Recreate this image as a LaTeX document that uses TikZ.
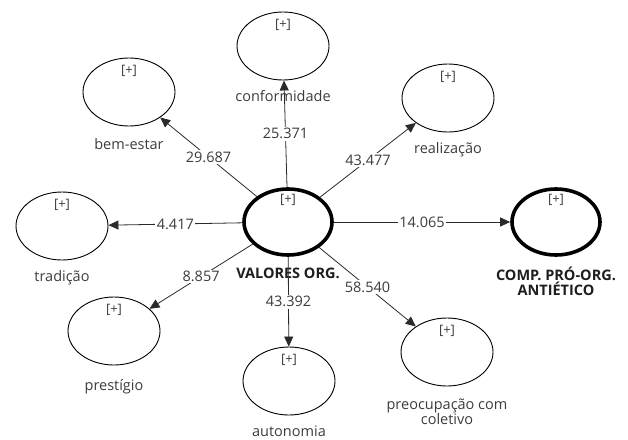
\documentclass[tikz,border=0pt]{standalone}
\usepackage{fontspec}
\setmainfont{Open Sans}
\usepackage{xcolor}
\usepackage{tikz}
\usetikzlibrary{arrows.meta,positioning,shapes.geometric}
\definecolor{PlsLine}{HTML}{2A2A2A}
\definecolor{PlsText}{HTML}{3C3C3C}
\definecolor{PlsDark}{HTML}{1E1E1E}

\begin{document}
\begin{tikzpicture}[
  x=1pt, y=-1pt,
  every node/.style={font=\fontsize{14.5}{16}\selectfont, text=PlsText},
  latent/.style={draw=black, ellipse, minimum width=92pt, minimum height=68pt, line width=0.9pt},
  focal/.style={latent, line width=3.6pt, minimum width=88pt, minimum height=66pt},
  plus/.style={font=\fontsize{13}{14}\selectfont, inner sep=0pt},
  caption/.style={inner sep=0pt, align=center},
  boldcaption/.style={caption, font=\fontsize{14.5}{15}\selectfont\bfseries, text=PlsDark},
  link/.style={-{Triangle[length=10pt,width=9pt]}, color=PlsLine, line width=0.8pt},
  weight/.style={fill=white, inner sep=1.5pt}
]
\useasboundingbox (0,0) rectangle (628,439);

% latent variables
\node[focal] (val) at (288,222) {};
\node[focal] (comp) at (556,222) {};
\node[latent] (conf) at (283,46) {};
\node[latent] (bem) at (129,92) {};
\node[latent] (real) at (448,98) {};
\node[latent] (trad) at (62,226) {};
\node[latent] (prest) at (114,331) {};
\node[latent] (auto) at (289,381) {};
\node[latent] (preoc) at (447,352) {};

% [+] markers
\node[plus, below=7pt of val.north] (val-plus) {[+]};
\node[plus, below=7pt of comp.north] (comp-plus) {[+]};
\node[plus, below=7pt of conf.north] (conf-plus) {[+]};
\node[plus, below=7pt of bem.north] (bem-plus) {[+]};
\node[plus, below=7pt of real.north] (real-plus) {[+]};
\node[plus, below=7pt of trad.north] (trad-plus) {[+]};
\node[plus, below=7pt of prest.north] (prest-plus) {[+]};
\node[plus, below=7pt of auto.north] (auto-plus) {[+]};
\node[plus, below=7pt of preoc.north] (preoc-plus) {[+]};

% names
\node[boldcaption, below=11pt of val] (val-lbl) {VALORES ORG.};
\node[boldcaption, below=10pt of comp] (comp-lbl) {COMP. PRÓ-ORG.\\ANTIÉTICO};
\node[caption, below=10pt of conf] (conf-lbl) {conformidade};
\node[caption, below=12pt of bem] (bem-lbl) {bem-estar};
\node[caption, below=10pt of real] (real-lbl) {realização};
\node[caption, below=10pt of trad] (trad-lbl) {tradição};
\node[caption, below=14pt of prest] (prest-lbl) {prestígio};
\node[caption, below=10pt of auto] (auto-lbl) {autonomia};
\node[caption, below=12pt of preoc, font=\fontsize{14.5}{14}\selectfont] (preoc-lbl) {preocupação com\\coletivo};

% paths
\draw[link] (val) -- node[weight] (w-conf) {25.371} (conf);
\draw[link] (val) -- node[weight] (w-bem) {29.687} (bem);
\draw[link] (val) -- node[weight] (w-real) {43.477} (real);
\draw[link] (val) -- node[weight] (w-trad) {4.417} (trad);
\draw[link] (val) -- node[weight] (w-comp) {14.065} (comp);
\draw[link] (val) -- node[weight] (w-prest) {8.857} (prest);
\draw[link] (val) -- node[weight] (w-auto) {43.392} (auto);
\draw[link] (val) -- node[weight] (w-preoc) {58.540} (preoc);
\end{tikzpicture}
\end{document}
